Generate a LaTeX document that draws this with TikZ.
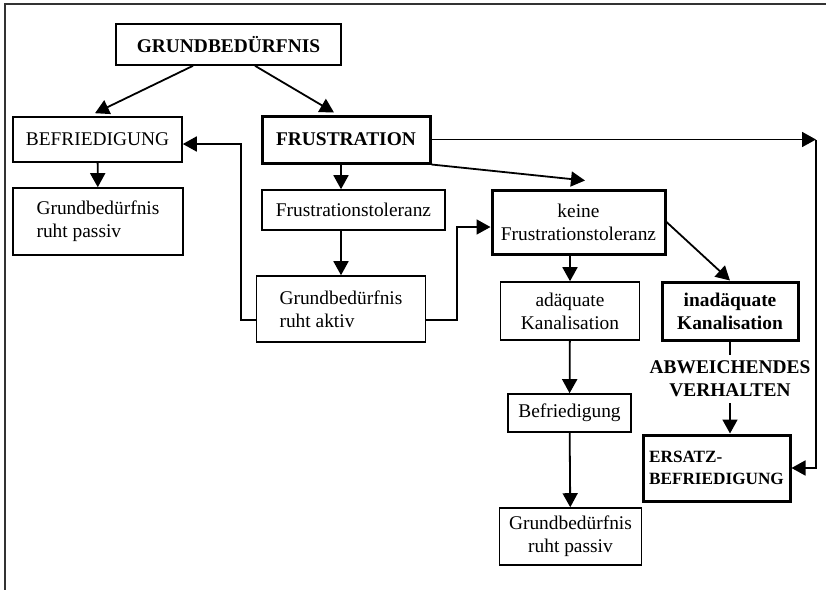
\documentclass[tikz,border=0pt]{standalone}
\usepackage{fontspec}
\setmainfont{Liberation Serif}
\usetikzlibrary{arrows.meta,calc}
\tikzset{
  block/.style={rectangle, draw=black, line width=0.8pt, fill=white, align=center,
                inner sep=2pt, font=\fontsize{9.7}{11.5}\selectfont},
  blockcaps/.style={block, font=\fontsize{9.7}{11.5}\selectfont\bfseries},
  blockthick/.style={block, line width=1.5pt},
  blockbold/.style={blockthick, font=\fontsize{9.7}{11.5}\selectfont\bfseries},
  remark/.style={align=center, inner sep=3pt, font=\fontsize{9.7}{11.5}\selectfont\bfseries},
  arrow/.style={-{Triangle[length=7pt,width=7.5pt]}, line width=0.9pt},
  plain/.style={line width=0.9pt},
  frame/.style={line width=1pt, black!80},
}

\begin{document}
\begin{tikzpicture}[x=0.5pt, y=-0.5pt]
\useasboundingbox (0,0) rectangle (826,590);
\draw[frame] (5,590) -- (5,4) -- (826,4);

% left branch
\node[blockcaps, minimum width=112.5pt, minimum height=20.5pt] (grund) at (228.5,44.5) {GRUNDBEDÜRFNIS};
\node[block, minimum width=84.5pt, minimum height=22.5pt] (befr) at (97.5,139.5) {BEFRIEDIGUNG};
\node[block, align=left, minimum width=85pt, minimum height=33.5pt] (passivL) at (98,221.5) {Grundbedürfnis\\ruht passiv};

% middle
\node[blockbold, minimum width=84pt, minimum height=23.5pt] (frust) at (346,139.5) {FRUSTRATION};
\node[block, minimum width=91.5pt, minimum height=20pt] (toleranz) at (353.5,210) {Frustrationstoleranz};
\node[block, align=left, minimum width=84.5pt, minimum height=33pt] (aktiv) at (341,309) {Grundbedürfnis\\ruht aktiv};

% right
\node[blockthick, minimum width=86.5pt, minimum height=32pt] (keine) at (578.5,222) {keine\\Frustrationstoleranz};
\node[block, minimum width=69.5pt, minimum height=29pt] (adaeq) at (570,311) {adäquate\\Kanalisation};
\node[blockbold, minimum width=68pt, minimum height=29pt] (inadaeq) at (730,311) {inadäquate\\Kanalisation};
\node[remark] (abw) at (730,379) {ABWEICHENDES\\VERHALTEN};
\node[block, minimum width=61.5pt, minimum height=19pt] (befr2) at (569.5,413) {Befriedigung};
\node[block, minimum width=71pt, minimum height=28.5pt] (passivB) at (570.5,536.5) {Grundbedürfnis\\ruht passiv};
\node[blockbold, align=left, font=\fontsize{8.6}{11}\selectfont\bfseries,
      minimum width=73.5pt, minimum height=33pt] (ersatz) at (716.5,468) {ERSATZ-\\BEFRIEDIGUNG};

\coordinate (cL) at (241,144);
\coordinate (cM) at (457,227);
\coordinate (cR) at (816,139.5);

\draw[arrow] ($(grund.south)+(-35.5,0)$) -- ($(befr.north)+(-2.5,-3)$);
\draw[arrow] ($(grund.south)+(26.5,0)$) -- ($(frust.north)+(-12,-2)$);
\draw[arrow] (befr) -- (passivL);
\draw[arrow] (frust.south -| aktiv.north) -- (toleranz.north -| aktiv.north);
\draw[arrow] (toleranz.south -| aktiv.north) -- (aktiv.north);
\draw[arrow] (frust.south east) -- ($(keine.north)+(6.5,-8)$);
\draw[arrow] (frust) -- (cR);
\draw[arrow] (cR) |- (ersatz.east);
\draw[arrow] ($(aktiv.west)+(0,11)$) -| (cL) -- (befr.east |- cL);
\draw[arrow] ($(aktiv.east)+(0,11)$) -| (cM) -- (keine.west |- cM);
\draw[arrow] (keine.south -| adaeq.north) -- (adaeq.north);
\draw[arrow] (keine.east) -- (inadaeq.north);
\draw[arrow] (adaeq) -- (befr2);
\draw[arrow] (befr2) -- (passivB);
\draw[plain] (inadaeq) -- (abw);
\draw[arrow] (abw) -- (abw |- ersatz.north);
\end{tikzpicture}
\end{document}
